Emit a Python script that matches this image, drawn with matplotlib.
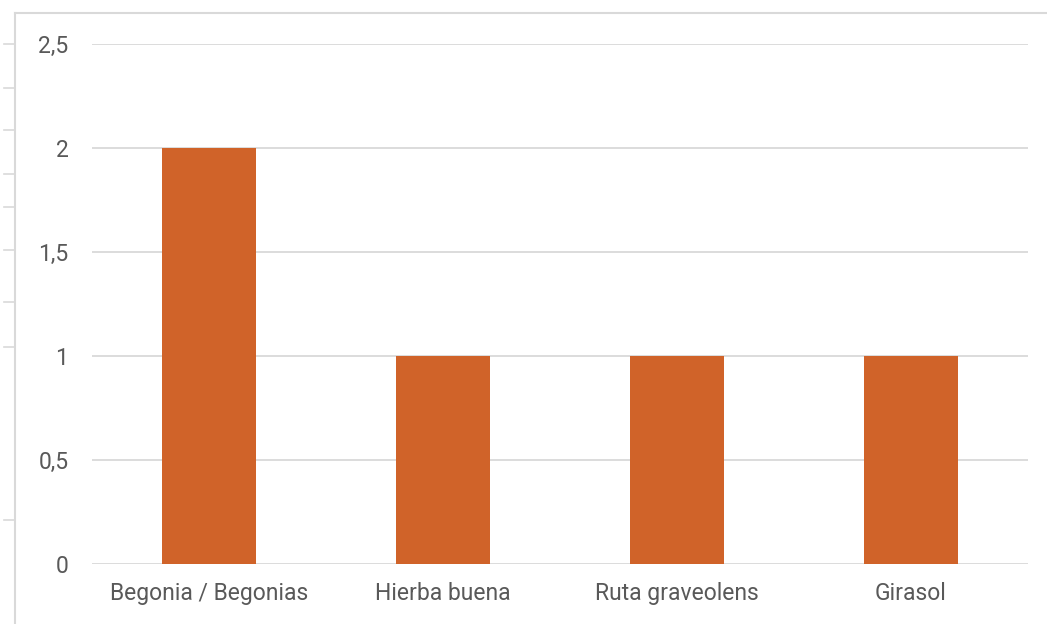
import matplotlib
matplotlib.use("Agg")
import matplotlib.pyplot as plt
from matplotlib.lines import Line2D

plt.rcParams['font.family'] = ['Roboto', 'DejaVu Sans']

categorias = ["Begonia / Begonias", "Hierba buena", "Ruta graveolens", "Girasol"]
valores = [2, 1, 1, 1]
ticks_y = [0, 0.5, 1, 1.5, 2, 2.5]

W, H = 1047, 624
fig = plt.figure(figsize=(W / 100, H / 100), dpi=100)
ax = fig.add_axes([92 / W, 60 / H, 936 / W, 520 / H])

x = range(len(categorias))
ax.bar(x, valores, width=0.4, color="#D06329", zorder=3)

ax.set_xlim(-0.5, len(categorias) - 0.5)
ax.set_ylim(0, 2.5)
ax.set_yticks(ticks_y)
ax.set_yticklabels([f"{v:g}".replace(".", ",") for v in ticks_y])
ax.set_xticks(list(x))
ax.set_xticklabels(categorias)

ax.grid(axis="y", color="#D9D9D9", linewidth=1.3, zorder=0)
for s in ax.spines.values():
    s.set_visible(False)
ax.tick_params(axis="both", length=0, labelsize=16.5, labelcolor="#595959")
ax.tick_params(axis="y", pad=17)
ax.tick_params(axis="x", pad=13)

# borde del cuadro del gráfico y líneas de celdas a la izquierda
gris = "#D9D9D9"
fig.add_artist(Line2D([15 / W, 15 / W], [0, 1 - 13 / H], color=gris, lw=1.5, transform=fig.transFigure))
fig.add_artist(Line2D([15 / W, 1], [1 - 13 / H, 1 - 13 / H], color=gris, lw=1.5, transform=fig.transFigure))
for yy in [44, 88, 130, 174, 207, 250, 302, 347, 520]:
    fig.add_artist(Line2D([4 / W, 15 / W], [1 - yy / H, 1 - yy / H], color=gris, lw=1.2,
                          transform=fig.transFigure))

fig.savefig("out.png", dpi=100)
